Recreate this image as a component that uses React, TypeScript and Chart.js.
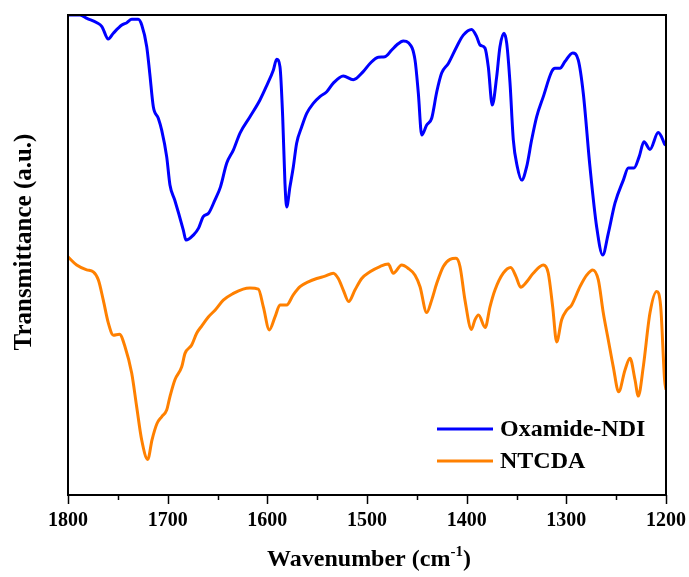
import React, { useEffect, useRef } from "react";
import { Chart, registerables } from "chart.js";

Chart.register(...registerables);

// Oxamide-NDI spectrum (wavenumber cm-1, transmittance a.u.)
const oxamideWavenumber = [
  1800, 1788, 1781, 1771, 1766, 1759.6, 1754.5, 1746, 1741, 1736, 1729.5, 1726, 1721, 1718, 1714.4, 1709.4,
  1706, 1701, 1697.7, 1693, 1689, 1684.3, 1681.6, 1674, 1669, 1664.3, 1659, 1652.5, 1647, 1640.8, 1634,
  1627.4, 1617.4, 1607.4, 1600.6, 1594, 1590.6, 1587.3, 1584.6, 1582.3, 1580.6, 1577.3, 1573.9, 1570.6,
  1565.5, 1560.5, 1553.9, 1547.2, 1540.4, 1533.8, 1523.8, 1513.8, 1503.8, 1497, 1488.7, 1482, 1475.2,
  1470.2, 1463.6, 1458.4, 1451.8, 1448.5, 1445.1, 1440.1, 1435.1, 1430, 1425.1, 1418.4, 1410, 1403.4,
  1395, 1390, 1386.6, 1381.6, 1378.3, 1374.3, 1369.9, 1366.6, 1362.6, 1359.8, 1356.5, 1353.2, 1349.2,
  1344.8, 1339.8, 1334.8, 1329.8, 1323.1, 1314.7, 1311.4, 1306.4, 1301.4, 1293.6, 1288, 1283, 1276.3,
  1269.6, 1263.5, 1257.9, 1251.2, 1242.8, 1237.8, 1232.2, 1226.9, 1222.1, 1216.1, 1207.8, 1204.4, 1201.4, 1200,
];
const oxamideT = [
  100, 100, 99.3, 98.4, 97.6, 95.0, 96.2, 97.9, 98.4, 99.1, 99.1, 97.9, 93.4, 87.9, 80.9, 78.5,
  76.0, 70.5, 64.6, 61.5, 58.7, 55.2, 53.1, 54.2, 55.6, 58.0, 58.7, 61.5, 64.2, 69.1, 71.9,
  75.4, 78.8, 82.3, 85.3, 88.5, 90.8, 89.2, 78.8, 64.9, 60.0, 64.2, 68.4, 73.3,
  76.7, 79.5, 81.6, 83.0, 84.0, 85.8, 87.3, 86.5, 88.2, 89.9, 91.2, 91.3, 92.7,
  93.75, 94.6, 94.2, 90.6, 83.7, 75.0, 77.1, 78.5, 84.0, 87.9, 89.9, 93.4, 95.8,
  97.0, 95.5, 93.75, 93.1, 89.2, 81.25, 87.1, 93.4, 96.2, 94.1, 85.8, 74.0, 68.4,
  65.6, 68.4, 74.0, 78.8, 83.0, 88.2, 88.9, 88.9, 90.3, 92.1, 90.6, 83.7, 68.4,
  55.9, 50.0, 54.5, 60.8, 65.6, 68.1, 68.1, 70.5, 73.6, 72.0, 75.5, 74.6, 73.1, 72.9,
];

// NTCDA spectrum
const ntcdaWavenumber = [
  1800, 1791.3, 1781.2, 1774.6, 1769.5, 1764.6, 1759.5, 1754.5, 1748.4, 1742.8, 1736.1, 1731.1, 1726.1,
  1720, 1715.7, 1710.7, 1706, 1701, 1697.7, 1692.7, 1685.9, 1682.6, 1675.9, 1670.9, 1665.9, 1659.2,
  1652.5, 1644.2, 1634.1, 1624.3, 1617.4, 1609, 1604, 1598, 1592.3, 1587.3, 1580.6, 1574, 1567.2,
  1558.9, 1550.4, 1542.1, 1533.8, 1528.8, 1523.8, 1518.4, 1512.1, 1505.3, 1497, 1487, 1478.6, 1473.6,
  1465.2, 1458.6, 1451.8, 1446.8, 1440.1, 1435.1, 1430, 1423.4, 1416.7, 1410.7, 1406.7, 1401.7, 1395.2,
  1391.7, 1388.1, 1381.4, 1376.6, 1371.6, 1363.3, 1355.8, 1350.5, 1345.8, 1339.8, 1333.2, 1323.1,
  1318.1, 1313.7, 1309.7, 1304.7, 1299.6, 1294.6, 1286.3, 1279.6, 1273.5, 1267.9, 1262.9, 1257.9,
  1252.9, 1247.5, 1241.2, 1236.1, 1231.1, 1227.8, 1222.8, 1216.1, 1209.4, 1205.3, 1201.4, 1200,
];
const ntcdaT = [
  49.6, 47.9, 46.9, 46.5, 44.8, 40.6, 35.8, 33.3, 33.5, 30.9, 25.4, 18.4, 11.5,
  7.4, 11.5, 14.9, 16.3, 17.7, 20.5, 24.0, 26.7, 29.5, 31.25, 33.7, 35.2, 37.1,
  38.5, 40.6, 42.0, 42.9, 43.1, 42.9, 39.2, 34.4, 37.1, 39.6, 39.6, 41.7, 43.4,
  44.4, 45.1, 45.6, 46.2, 45.1, 42.7, 40.3, 42.7, 45.1, 46.5, 47.6, 48.1, 46.2,
  47.9, 47.2, 45.8, 43.4, 38.0, 40.6, 44.1, 47.6, 49.1, 49.3, 47.6, 40.6, 34.5,
  36.5, 37.5, 34.9, 39.2, 42.7, 46.2, 47.4, 45.5, 43.3, 44.4, 46.2, 47.9,
  46.2, 39.2, 31.9, 36.5, 38.5, 39.6, 43.4, 45.8, 46.9, 44.8, 37.9, 32.3,
  26.7, 21.5, 26.0, 28.5, 24.0, 20.6, 26.7, 37.9, 42.4, 39.2, 24.0, 21.9,
];

const seriesNames = ["Oxamide-NDI", "NTCDA"];
const seriesColors = ["#0000FF", "#FF8000"];
const xMin = 1200;
const xMax = 1800;
const majorStep = 100;
const minorStep = 50;
const xTitleMain = "Wavenumber (cm";
const xTitleSup = "-1";
const xTitleEnd = ")";
const yTitle = "Transmittance (a.u.)";

const FONT = '"Liberation Serif", "Times New Roman", serif';

const decorPlugin = {
  id: "decor",
  afterDatasetsDraw(chart: any) {
    const { ctx, chartArea } = chart;
    const { left, right, top, bottom } = chartArea;
    const xs = chart.scales.x;
    ctx.save();
    // frame
    ctx.strokeStyle = "#000";
    ctx.lineWidth = 2;
    ctx.strokeRect(left, top, right - left, bottom - top);
    // ticks
    ctx.lineWidth = 1.5;
    for (let v = xMin; v <= xMax; v += minorStep) {
      const px = Math.round(xs.getPixelForValue(v)) + 0.5;
      const len = v % majorStep === 0 ? 9 : 5;
      ctx.beginPath();
      ctx.moveTo(px, bottom);
      ctx.lineTo(px, bottom + len);
      ctx.stroke();
    }
    // legend
    const lx0 = right - 229;
    const lx1 = right - 173;
    const ly = [bottom - 66, bottom - 34];
    ctx.font = `bold 24px ${FONT}`;
    ctx.textBaseline = "middle";
    ctx.textAlign = "left";
    chart.data.datasets.forEach((ds: any, i: number) => {
      ctx.strokeStyle = ds.borderColor;
      ctx.lineWidth = 3;
      ctx.beginPath();
      ctx.moveTo(lx0, ly[i]);
      ctx.lineTo(lx1, ly[i]);
      ctx.stroke();
      ctx.fillStyle = "#000";
      ctx.fillText(ds.label, lx1 + 7, ly[i] + 1);
    });
    // y title
    ctx.save();
    ctx.translate(25, (top + bottom) / 2 - 13);
    ctx.rotate(-Math.PI / 2);
    ctx.textAlign = "center";
    ctx.textBaseline = "middle";
    ctx.font = `bold 25px ${FONT}`;
    ctx.fillText(yTitle, 0, 0);
    ctx.restore();
    // x title with superscript
    ctx.font = `bold 24px ${FONT}`;
    const w1 = ctx.measureText(xTitleMain).width;
    ctx.font = `bold 15px ${FONT}`;
    const w2 = ctx.measureText(xTitleSup).width;
    ctx.font = `bold 24px ${FONT}`;
    const w3 = ctx.measureText(xTitleEnd).width;
    const total = w1 + w2 + w3;
    let x = (left + right) / 2 + 2 - total / 2;
    const base = 566;
    ctx.textAlign = "left";
    ctx.textBaseline = "alphabetic";
    ctx.fillText(xTitleMain, x, base);
    x += w1;
    ctx.font = `bold 15px ${FONT}`;
    ctx.fillText(xTitleSup, x, base - 10);
    x += w2;
    ctx.font = `bold 24px ${FONT}`;
    ctx.fillText(xTitleEnd, x, base);
    ctx.restore();
  },
};

export default function App() {
  const ref = useRef<HTMLCanvasElement | null>(null);
  useEffect(() => {
    if (!ref.current) return;
    const mk = (xs: number[], ys: number[]) => xs.map((x, i) => ({ x, y: ys[i] }));
    const chart = new Chart(ref.current, {
      type: "line",
      data: {
        datasets: [
          {
            label: seriesNames[0],
            data: mk(oxamideWavenumber, oxamideT),
            borderColor: seriesColors[0],
            backgroundColor: seriesColors[0],
            borderWidth: 3,
            pointRadius: 0,
            cubicInterpolationMode: "monotone",
          },
          {
            label: seriesNames[1],
            data: mk(ntcdaWavenumber, ntcdaT),
            borderColor: seriesColors[1],
            backgroundColor: seriesColors[1],
            borderWidth: 3,
            pointRadius: 0,
            cubicInterpolationMode: "monotone",
          },
        ],
      },
      options: {
        animation: false,
        responsive: false,
        maintainAspectRatio: false,
        layout: { padding: { left: 68, right: 23, top: 15, bottom: 0 } },
        plugins: { legend: { display: false }, tooltip: { enabled: false } },
        scales: {
          x: {
            type: "linear",
            min: xMin,
            max: xMax,
            reverse: true,
            grid: { display: false, drawTicks: false },
            border: { display: false },
            ticks: {
              stepSize: majorStep,
              color: "#000",
              padding: 2,
              font: { family: FONT, size: 20, weight: "bold", lineHeight: 2.4 },
              callback: (v: any) => String(v),
            },
            afterFit: (scale: any) => {
              scale.height = 82;
            },
          },
          y: {
            type: "linear",
            min: 0,
            max: 100,
            display: false,
          },
        },
      },
      plugins: [decorPlugin],
    } as any);
    return () => chart.destroy();
  }, []);
  return (
    <div style={{ position: "fixed", left: 0, top: 0, width: 689, height: 577, background: "#fff" }}>
      <canvas ref={ref} width={689} height={577} style={{ display: "block" }} />
    </div>
  );
}
